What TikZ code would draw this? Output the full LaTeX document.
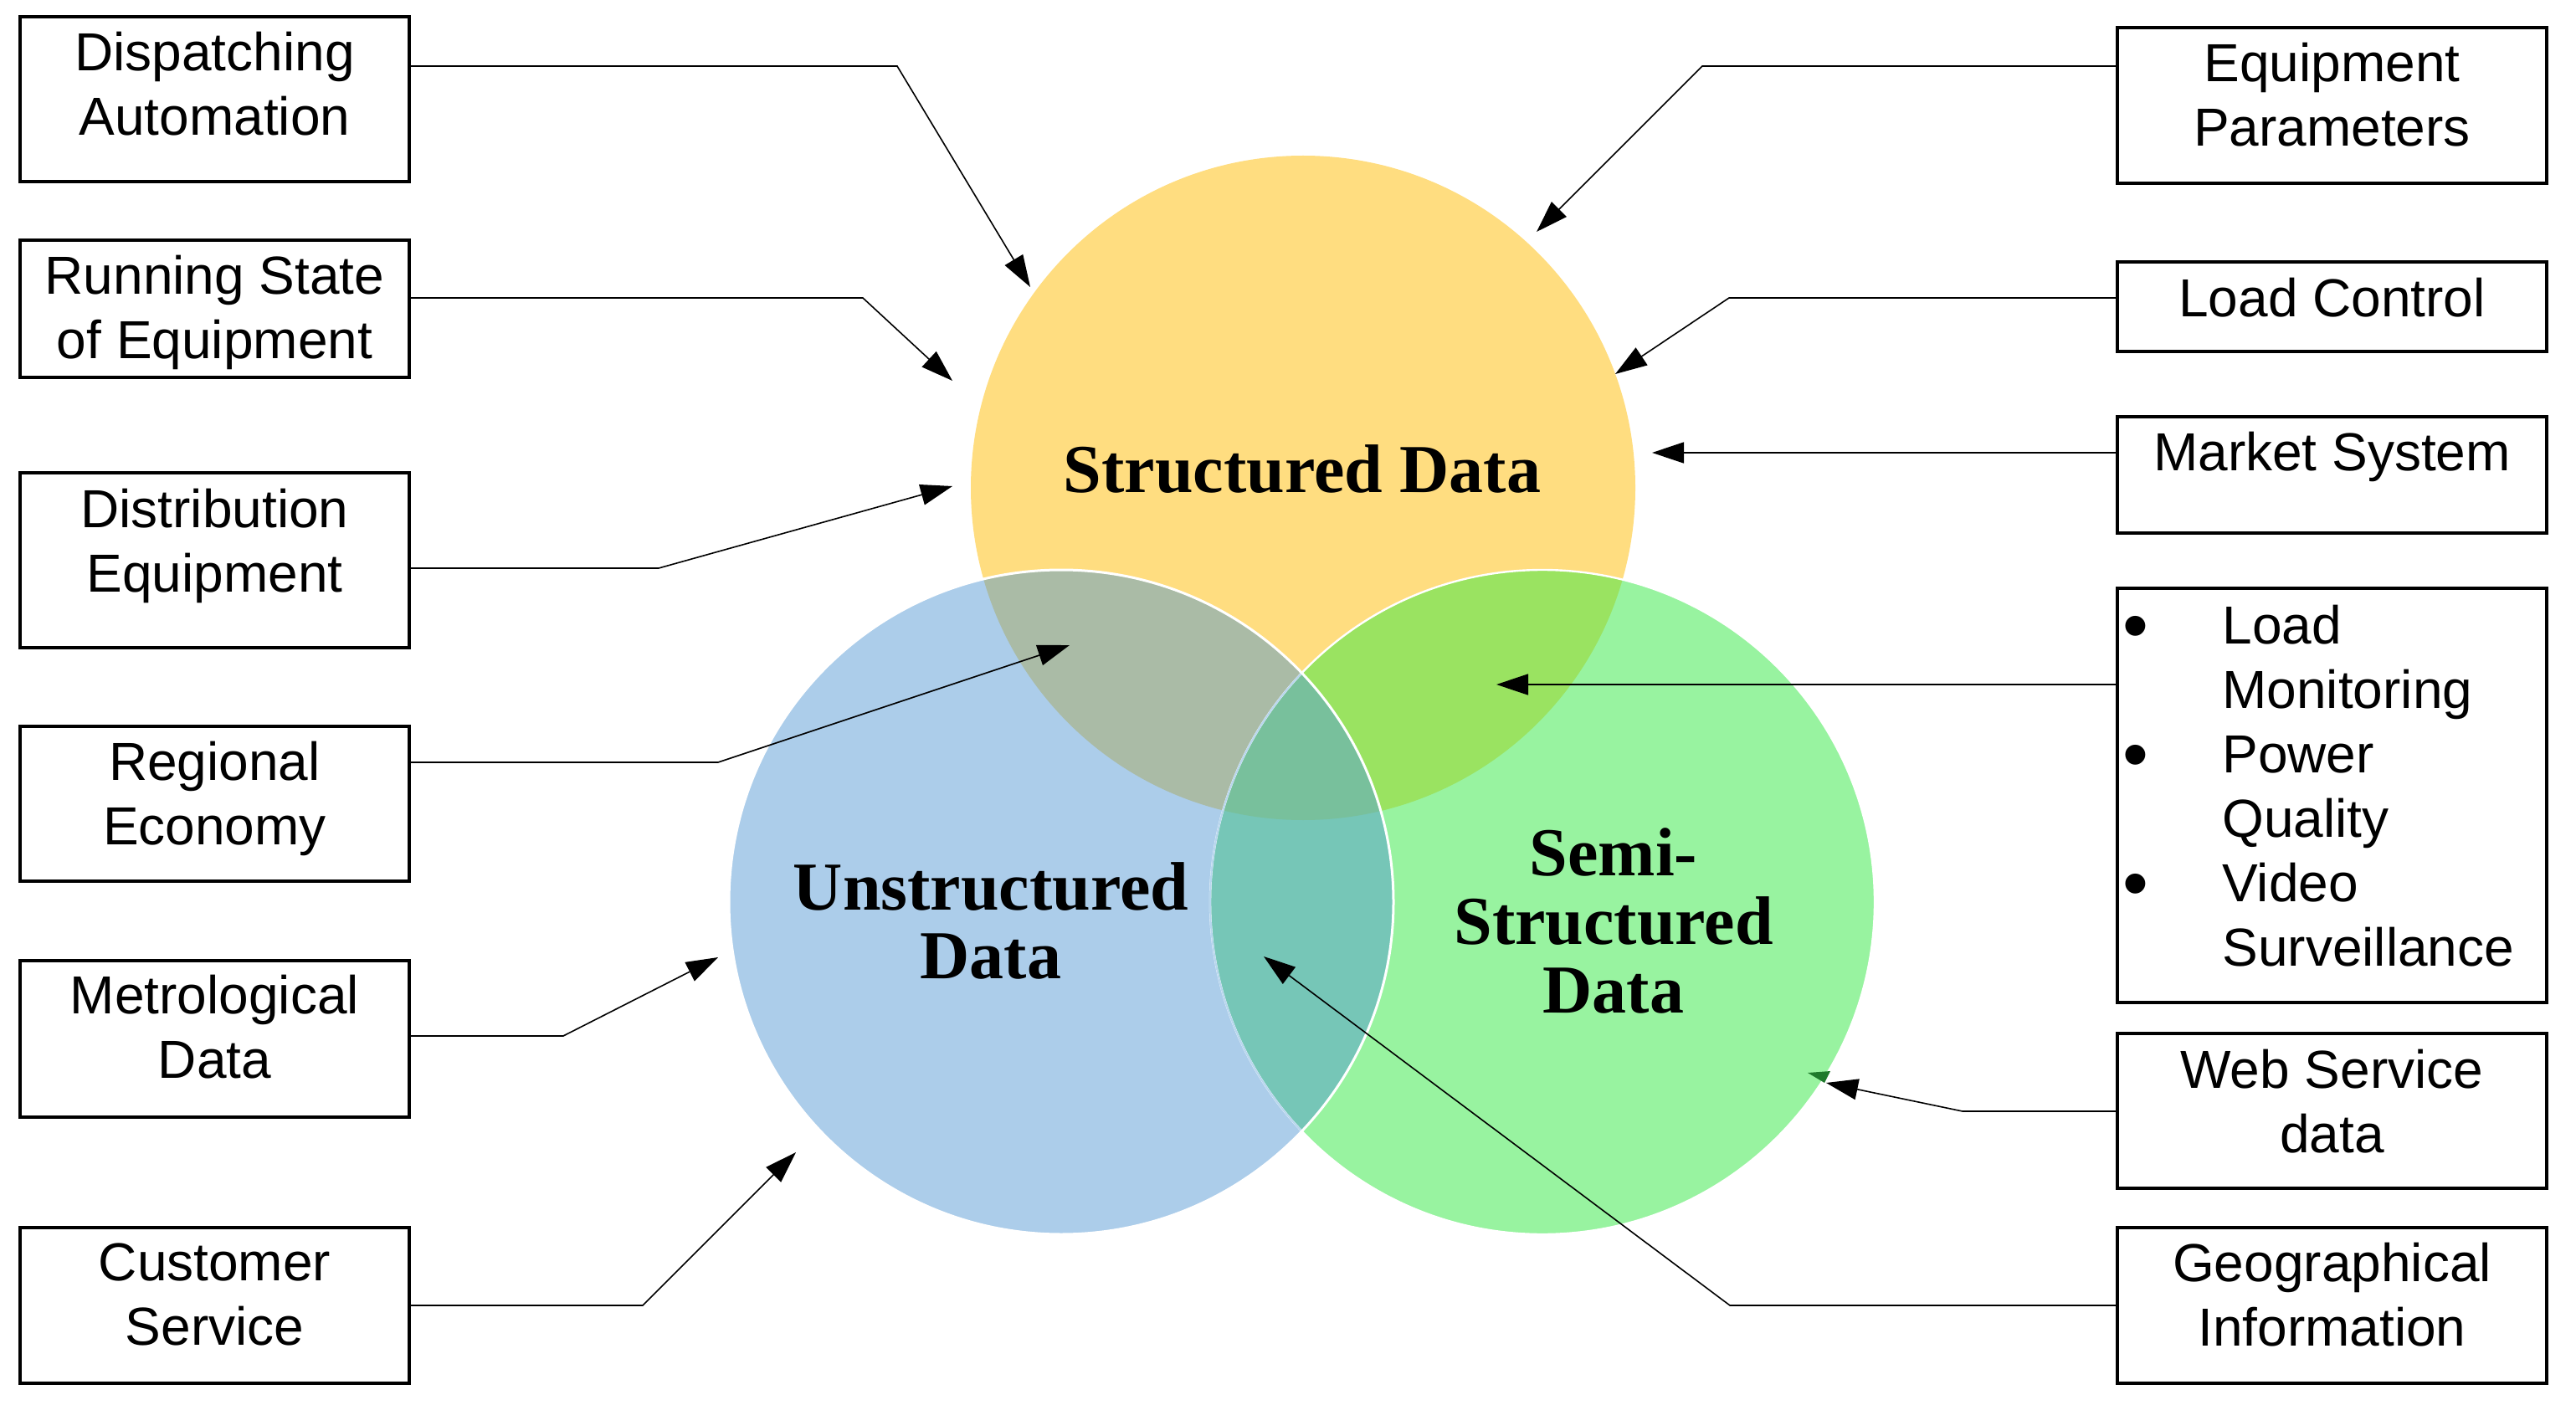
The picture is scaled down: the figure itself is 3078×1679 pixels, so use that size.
\documentclass[tikz,border=0pt]{standalone}
\usepackage{fontspec}
\setmainfont{Liberation Sans}
\newfontfamily\circfont{Liberation Serif}
\usetikzlibrary{arrows.meta,calc,fit}
\definecolor{cY}{HTML}{FFDD80}
\definecolor{cB}{HTML}{ACCDEA}
\definecolor{cG}{HTML}{98F3A0}
\definecolor{cYB}{HTML}{AABBA6}
\definecolor{cYG}{HTML}{9AE361}
\definecolor{cBG}{HTML}{76C6B7}
\definecolor{cYBG}{HTML}{78C09C}
\definecolor{cBline}{HTML}{B8D6EE}
\definecolor{cDkG}{HTML}{1F7A2C}
\begin{document}
\begin{tikzpicture}[x=0.5pt,y=-0.5pt,
  box/.style={draw=black, line width=2pt, inner sep=0pt, fill=white},
  lbl/.style={inner sep=0pt, align=center, anchor=north, font=\fontsize{32}{38.5}\selectfont},
  conn/.style={draw=black, line width=0.8pt, -{Triangle[length=19pt,width=12.5pt]}},
  ctxt/.style={inner sep=0pt, align=center, anchor=north, font=\circfont\bfseries\fontsize{41}{41}\selectfont},
  bul/.style={inner sep=0pt, anchor=base, font=\fontsize{44}{44}\selectfont}]
\useasboundingbox (0,0) rectangle (3078,1679);
\fill[white] (0,0) rectangle (3078,1679);

% circles
\coordinate (cy) at (1557,583);
\coordinate (cb) at (1268,1078);
\coordinate (cg) at (1843,1078);
\fill[cY] (cy) circle (397);
\fill[cB] (cb) circle (397);
\fill[cG] (cg) circle (397);
\begin{scope}
  \clip (cy) circle (397);
  \fill[cYB] (cb) circle (397);
  \fill[cYG] (cg) circle (397);
\end{scope}
\begin{scope}
  \clip (cb) circle (397);
  \fill[cBG] (cg) circle (397);
  \clip (cy) circle (397);
  \fill[cYBG] (cg) circle (397);
\end{scope}
\draw[white, line width=1.2pt] (cg) circle (397);
\begin{scope}
  \clip (cb) circle (397);
  \draw[cBline, line width=1pt] (cg) circle (397);
\end{scope}
\draw[white, line width=1.5pt] (cb) circle (397);

% circle labels
\node[ctxt] (ts) at (1556,531) {Structured Data};
\node[ctxt] (tu) at (1184,1030) {Unstructured\\Data};
\node[ctxt] (tss) at (1928,989) {Semi-\\Structured\\Data};

% left boxes
\node[box, fit={(24,20) (489,217)}] (L1) {};
\node[box, fit={(24,287) (489,451)}] (L2) {};
\node[box, fit={(24,565) (489,774)}] (L3) {};
\node[box, fit={(24,868) (489,1053)}] (L4) {};
\node[box, fit={(24,1148) (489,1335)}] (L5) {};
\node[box, fit={(24,1467) (489,1653)}] (L6) {};
\node[lbl] (L1t) at ($(L1.north)+(0,20)$) {Dispatching\\Automation};
\node[lbl] (L2t) at ($(L2.north)+(0,20)$) {Running State\\of Equipment};
\node[lbl] (L3t) at ($(L3.north)+(0,21)$) {Distribution\\Equipment};
\node[lbl] (L4t) at ($(L4.north)+(0,20)$) {Regional\\Economy};
\node[lbl] (L5t) at ($(L5.north)+(0,19)$) {Metrological\\Data};
\node[lbl] (L6t) at ($(L6.north)+(0,20)$) {Customer\\Service};

% right boxes
\node[box, fit={(2530,33) (3043,219)}] (R1) {};
\node[box, fit={(2530,313) (3043,420)}] (R2) {};
\node[box, fit={(2530,498) (3043,637)}] (R3) {};
\node[box, fit={(2530,703) (3043,1198)}] (R4) {};
\node[box, fit={(2530,1235) (3043,1420)}] (R5) {};
\node[box, fit={(2530,1467) (3043,1653)}] (R6) {};
\node[lbl] (R1t) at ($(R1.north)+(0,20)$) {Equipment\\Parameters};
\node[lbl] (R2t) at ($(R2.north)+(0,21)$) {Load Control};
\node[lbl] (R3t) at ($(R3.north)+(0,20)$) {Market System};
\node[lbl, align=left, anchor=north west] (R4t) at (2655,723) {Load\\Monitoring\\Power\\Quality\\Video\\Surveillance};
\node[bul] (bu1) at (2552,777) {•};
\node[bul] (bu2) at (2552,931) {•};
\node[bul] (bu3) at (2552,1085) {•};
\node[lbl] (R5t) at ($(R5.north)+(0,21)$) {Web Service\\data};
\node[lbl] (R6t) at ($(R6.north)+(0,20)$) {Geographical\\Information};

% connector coordinates
\coordinate (lb1) at (1072,79);   \coordinate (la1) at (1231,343);
\coordinate (lb2) at (1031,356);  \coordinate (la2) at (1138,455);
\coordinate (lb3) at (787,679);   \coordinate (la3) at (1138,581);
\coordinate (lb4) at (858,911);   \coordinate (la4) at (1278,771);
\coordinate (lb5) at (673,1238);  \coordinate (la5) at (858,1144);
\coordinate (lb6) at (768,1560);  \coordinate (la6) at (951,1377);
\coordinate (rb1) at (2034,79);   \coordinate (ra1) at (1836,277);
\coordinate (rb2) at (2066,356);  \coordinate (ra2) at (1930,447);
\coordinate (ra3) at (1974,541);
\coordinate (ra4) at (1788,818);
\coordinate (rb5) at (2345,1328); \coordinate (ra5) at (2182,1294);
\coordinate (rb6) at (2067,1560); \coordinate (ra6) at (1510,1143);

% connectors
\draw[conn] (L1.east |- lb1) -- (lb1) -- (la1);
\draw[conn] (L2.east |- lb2) -- (lb2) -- (la2);
\draw[conn] (L3.east |- lb3) -- (lb3) -- (la3);
\draw[conn] (L4.east |- lb4) -- (lb4) -- (la4);
\draw[conn] (L5.east |- lb5) -- (lb5) -- (la5);
\draw[conn] (L6.east |- lb6) -- (lb6) -- (la6);
\draw[conn] (R1.west |- rb1) -- (rb1) -- (ra1);
\draw[conn] (R2.west |- rb2) -- (rb2) -- (ra2);
\draw[conn] (R3.west |- ra3) -- (ra3);
\draw[conn] (R4.west |- ra4) -- (ra4);
\draw[conn] (R5.west |- rb5) -- (rb5) -- (ra5);
\draw[conn] (R6.west |- rb6) -- (rb6) -- (ra6);

% small green arrowhead mark
\fill[cDkG] (2160,1282) -- (2187,1280) -- (2180,1294) -- cycle;
\end{tikzpicture}
\end{document}
